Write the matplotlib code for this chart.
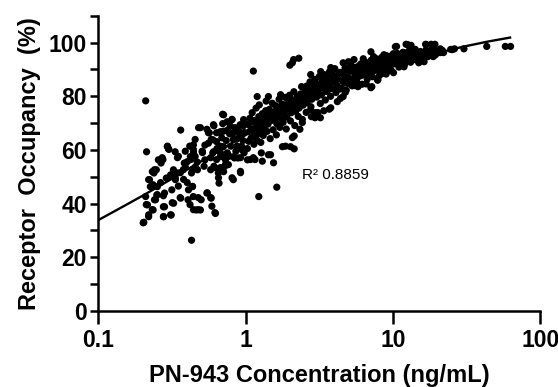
import matplotlib
matplotlib.use('Agg')
from matplotlib import pyplot as plt
from matplotlib.ticker import FixedLocator, NullLocator, FuncFormatter

# (concentration ng/mL, occupancy %)
low_range = [
    (0.21, 78.3), (0.213, 59.3), (0.204, 33.0), (0.22, 35.1), (0.21, 42.6), (0.216, 39.5),
    (0.223, 48.9), (0.239, 51.4), (0.236, 47.0), (0.236, 37.6), (0.241, 41.4), (0.25, 43.2),
    (0.241, 52.6), (0.267, 55.1), (0.275, 56.4), (0.282, 43.9), (0.282, 38.8), (0.278, 35.1),
    (0.295, 61.4), (0.302, 60.2), (0.313, 35.7), (0.325, 40.1), (0.313, 50.1), (0.316, 45.1),
    (0.334, 48.9), (0.344, 51.4), (0.35, 57.6), (0.363, 67.4), (0.363, 42.0), (0.378, 52.6),
    (0.384, 55.1), (0.39, 59.5), (0.407, 41.4), (0.43, 26.3), (0.418, 61.4), (0.425, 56.4),
    (0.43, 51.4), (0.437, 46.4), (0.442, 42.6), (0.442, 60.2), (0.455, 57.6), (0.455, 63.9),
    (0.462, 37.6), (0.472, 52.6), (0.48, 68.3), (0.494, 37.6), (0.5, 41.4), (0.508, 59.5),
    (0.523, 53.9), (0.547, 43.9), (0.547, 67.7), (0.568, 66.4), (0.585, 63.9), (0.585, 42.0),
    (0.591, 39.0), (0.6, 58.9), (0.61, 69.0), (0.625, 36.3), (0.61, 53.9), (0.636, 66.4),
    (0.636, 56.4), (0.654, 51.4), (0.661, 47.6), (0.672, 61.4), (0.691, 57.6), (0.699, 73.3),
    (0.711, 67.0), (0.723, 53.9), (0.752, 58.9), (0.773, 57.6), (0.795, 61.4), (0.809, 71.4),
    (0.827, 48.9), (0.827, 63.9), (0.841, 57.0), (0.865, 67.7), (0.874, 61.4), (0.889, 57.0),
    (0.914, 65.2), (0.924, 52.0), (0.94, 61.4), (0.967, 69.0), (0.978, 58.9),
    (0.494, 68.3), (0.56, 66.4), (0.606, 69.4), (0.6, 63.8), (0.635, 63.1), (0.675, 66.4),
    (0.75, 70.5), (0.443, 59.3), (0.51, 59.3), (0.58, 52.6), (0.62, 53.4), (0.655, 49.6),
    (0.55, 44.0), (0.58, 42.2), (0.62, 36.6), (0.478, 42.2), (0.478, 37.7), (0.443, 37.7),
    (0.42, 39.6), (0.36, 42.2), (0.318, 40.3), (0.277, 38.8), (0.277, 35.1), (0.31, 35.8),
    (0.22, 35.8), (0.202, 32.8), (0.233, 37.7), (0.212, 39.6), (0.245, 41.4), (0.252, 43.3),
    (0.277, 42.9), (0.226, 46.3), (0.252, 46.3), (0.22, 48.9), (0.233, 51.9), (0.248, 52.6),
    (0.256, 56.3), (0.272, 57.1), (0.295, 61.2), (0.3, 60.4), (0.333, 59.3), (0.345, 57.1),
    (0.31, 50.7), (0.333, 49.6), (0.324, 52.6), (0.361, 51.5), (0.39, 53.7), (0.402, 47.8),
    (0.436, 46.3), (0.41, 45.1), (0.436, 52.6), (0.457, 53.7), (0.422, 57.5), (0.402, 55.6),
    (0.443, 61.9), (0.51, 59.0), (0.53, 56.3), (0.58, 57.1), (0.606, 59.3), (0.675, 59.0),
    (0.707, 61.2), (0.73, 56.3), (0.765, 54.5),
    (0.81, 71.3), (0.71, 73.1), (0.675, 66.8), (0.76, 67.5), (0.85, 68.3), (0.92, 69.4),
    (0.97, 71.3), (0.83, 66.4), (0.925, 65.7), (0.675, 57.5), (0.76, 58.2), (0.83, 57.5),
    (0.925, 57.1), (0.81, 49.6), (0.925, 51.5), (0.675, 53.4), (0.73, 54.5), (0.95, 60.0),
    (0.71, 51.9),
    (0.265, 47.8), (0.29, 49.5), (0.35, 46.5), (0.38, 49.0), (0.47, 55.5), (0.53, 61.8),
    (0.56, 62.5), (0.64, 60.5), (0.69, 64.5), (0.74, 63.5), (0.78, 66.0), (0.87, 64.0),
    (0.9, 67.0), (0.96, 63.5), (0.98, 66.5), (0.86, 59.5), (0.79, 68.9), (0.7, 69.8),
]

mid_range = [
    (1.03, 60.5), (1.05, 63.2), (1.06, 66.8), (1.04, 69.5), (1.07, 71.8), (1.09, 64.4),
    (1.1, 67.9), (1.12, 70.6), (1.11, 73.9), (1.14, 62.1), (1.16, 65.3), (1.17, 68.2),
    (1.15, 71.0), (1.18, 75.6), (1.2, 63.6), (1.22, 66.1), (1.21, 69.3), (1.23, 72.4),
    (1.24, 76.8), (1.27, 62.8), (1.28, 67.2), (1.29, 70.1), (1.3, 73.5), (1.32, 65.4),
    (1.34, 68.8), (1.35, 71.7), (1.37, 74.6), (1.38, 78.2), (1.4, 66.9), (1.42, 69.6),
    (1.43, 72.8), (1.45, 75.1), (1.47, 64.2), (1.49, 70.9), (1.5, 73.6), (1.52, 77.4),
    (1.54, 67.5), (1.56, 71.3), (1.58, 74.2), (1.6, 76.5), (1.62, 65.6), (1.63, 69.8),
    (1.65, 72.6), (1.67, 75.3), (1.69, 78.9), (1.71, 68.4), (1.73, 71.9), (1.75, 74.7),
    (1.77, 77.0), (1.8, 70.3), (1.82, 73.1), (1.84, 75.8), (1.86, 79.6), (1.89, 67.8),
    (1.91, 72.2), (1.93, 74.9), (1.96, 77.5), (1.99, 80.4), (2.02, 70.8), (2.05, 73.9),
    (2.08, 76.3), (2.1, 78.6), (2.13, 81.7), (2.16, 69.1), (2.19, 74.4), (2.22, 77.2),
    (2.25, 79.3), (2.28, 72.5), (2.31, 75.6), (2.34, 78.0), (2.37, 80.9), (2.4, 83.6),
    (2.43, 71.4), (2.46, 76.7), (2.5, 79.1), (2.54, 81.5), (2.58, 74.0), (2.62, 77.6),
    (2.66, 80.2), (2.7, 82.8), (2.74, 85.4), (2.78, 76.1), (2.82, 78.9), (2.86, 81.2),
    (2.9, 83.7), (2.95, 86.3), (2.99, 73.9), (3.04, 79.7),
    (1.26, 70.5), (1.39, 72.3), (1.53, 73.2), (1.68, 74.4), (1.85, 76.8), (2.03, 78.2),
    (2.24, 79.9), (2.47, 81.0), (2.72, 82.4),
    (1.08, 56.4), (1.16, 56.4), (1.28, 58.9), (1.3, 55.8), (1.23, 42.6), (1.63, 46.1),
    (1.43, 58.2), (1.48, 58.2), (1.55, 55.2), (1.13, 57.1), (1.03, 56.3),
    (1.2, 79.9), (1.43, 79.9), (1.73, 80.6), (1.13, 89.4),
    (2.0, 91.6), (2.08, 92.5), (2.12, 93.7), (2.3, 94.2),
    (2.43, 70.2), (2.34, 67.7), (2.14, 65.2), (2.14, 60.4), (1.87, 61.4), (2.08, 64.6),
    (2.02, 61.2), (1.78, 61.2), (2.8, 72.4), (2.96, 72.0), (2.77, 75.0), (2.77, 88.1),
    (1.12, 66.0), (1.19, 70.8), (1.33, 70.0), (1.46, 71.8), (1.6, 72.0), (1.75, 76.0),
    (1.95, 75.5), (2.1, 75.2), (2.3, 77.0), (2.55, 78.0), (2.6, 83.8), (2.85, 84.8),
]

high_range = [
    (3.08, 82.1), (3.12, 84.6), (3.17, 87.4), (3.22, 77.3), (3.27, 80.5), (3.32, 83.0),
    (3.37, 85.7), (3.42, 88.1), (3.48, 78.6), (3.54, 81.8), (3.6, 84.2), (3.66, 86.5),
    (3.72, 89.2), (3.78, 80.0), (3.84, 82.9), (3.9, 85.3), (3.97, 87.8), (4.04, 90.3),
    (4.11, 81.4), (4.18, 84.0), (4.25, 86.4), (4.33, 88.7), (4.41, 79.2), (4.49, 83.1),
    (4.57, 85.6), (4.65, 87.9), (4.74, 90.6), (4.83, 82.3), (4.92, 84.8), (5.01, 87.0),
    (5.1, 89.4), (5.2, 91.7), (5.3, 83.9), (5.4, 86.3), (5.5, 88.5), (5.61, 90.8),
    (5.72, 85.2), (5.83, 87.6), (5.95, 89.7), (6.07, 92.1), (6.19, 84.5), (6.31, 88.3),
    (6.44, 90.4), (6.57, 92.6), (6.7, 86.4), (6.84, 89.0), (6.98, 91.2), (7.12, 93.4),
    (7.27, 87.3), (7.42, 89.8), (7.57, 91.9), (7.73, 94.0), (7.89, 86.0), (8.05, 90.2),
    (8.22, 92.4), (8.39, 94.5), (8.57, 88.6), (8.75, 91.0), (8.93, 93.0), (9.12, 95.1),
    (9.31, 89.5), (9.51, 91.6), (9.71, 93.5), (9.92, 95.4), (10.1, 88.8), (10.3, 92.2),
    (10.5, 94.1), (10.7, 96.0), (11.0, 90.9), (11.2, 93.0), (11.5, 94.7), (11.7, 96.4),
    (12.0, 91.8), (12.3, 93.6), (12.6, 95.3), (12.9, 97.0), (13.2, 92.7), (13.5, 94.4),
    (13.9, 96.0), (14.2, 97.5), (14.6, 93.5), (15.0, 95.2), (15.4, 96.7), (15.8, 94.1),
    (16.3, 95.8), (16.8, 97.3), (17.3, 94.8), (17.9, 96.5), (18.5, 97.8), (19.1, 95.4),
    (19.8, 97.0),
    (3.0, 84.0), (3.3, 85.2), (3.63, 86.9), (4.0, 87.6), (4.4, 88.9), (4.85, 89.9),
    (5.35, 90.6), (5.9, 91.4), (6.5, 92.0), (7.2, 92.7), (8.0, 93.3), (8.8, 94.2), (9.7, 94.8),
    (3.24, 89.2), (3.79, 90.7), (4.6, 92.5), (5.45, 93.7), (6.3, 94.0), (7.4, 94.8),
    (8.7, 95.5), (10.1, 95.9), (11.9, 96.3), (13.9, 96.6), (5.0, 92.9),
    (3.1, 73.9), (3.79, 75.7), (4.2, 78.0), (4.6, 79.9), (5.8, 83.6), (7.1, 83.2),
    (7.9, 86.2), (9.7, 89.9), (11.9, 91.0), (15.0, 92.5),
    (3.22, 72.0), (3.4, 74.6), (3.7, 75.2), (7.2, 83.6), (6.6, 84.6), (5.5, 84.0),
    (4.76, 81.5), (4.38, 82.7), (9.0, 88.3), (8.1, 87.7), (7.1, 96.6),
    (3.5, 83.5), (4.1, 86.0), (4.8, 87.2), (5.6, 88.0), (6.2, 90.0), (7.0, 90.0),
    (7.8, 91.3), (8.6, 92.8), (9.4, 93.2), (10.8, 93.8), (12.2, 95.0), (13.0, 94.9),
]

top_range = [
    (10.6, 98.6), (12.3, 99.4), (13.3, 99.0), (16.7, 99.4), (18.2, 99.4), (19.3, 99.4),
    (21.0, 97.7), (21.7, 97.1), (24.7, 97.5), (26.2, 97.7), (30.4, 97.7), (43.4, 98.6),
    (58.0, 98.6), (63.0, 98.6), (16.8, 99.3), (19.5, 95.5), (21.0, 96.3), (22.1, 96.3),
    (25.3, 97.4), (15.0, 96.3), (14.0, 93.7), (16.3, 92.9), (18.8, 94.8), (12.6, 99.3),
    (10.4, 98.5),
]

# fitted curve
fit_conc = [0.1, 0.15, 0.2, 0.3, 0.4, 0.6, 0.8, 1, 1.5, 2, 3, 5, 7, 10, 15, 20, 30, 45, 62.5]
fit_occ = [33.8, 39.1, 42.9, 48.5, 52.6, 58.3, 62.4, 65.5, 70.9, 74.5, 79.4, 84.9, 88.1,
           91.1, 94.2, 96.1, 98.5, 100.5, 101.9]

x_ticks = [0.1, 1, 10, 100]
y_ticks = [0, 20, 40, 60, 80, 100]
y_minor = [10, 30, 50, 70, 90, 110]

allPoints = low_range + mid_range + high_range + top_range
conc = [p[0] for p in allPoints]
occ = [p[1] for p in allPoints]

plt.rcParams['font.family'] = ['Liberation Sans', 'DejaVu Sans']

fig = plt.figure(figsize=(5.58, 3.87), dpi=100)
ax = fig.add_axes([0.176, 0.197, 0.792, 0.762])

ax.scatter(conc, occ, s=27, color='black', edgecolors='none', zorder=3)
ax.plot(fit_conc, fit_occ, color='black', linewidth=1.7, zorder=2)

ax.set_xscale('log')
ax.set_xlim(0.1, 100)
ax.set_ylim(0, 110)
ax.xaxis.set_major_locator(FixedLocator(x_ticks))
ax.xaxis.set_minor_locator(NullLocator())
ax.xaxis.set_major_formatter(FuncFormatter(lambda v, pos: '%g' % v))
ax.yaxis.set_major_locator(FixedLocator(y_ticks))
ax.yaxis.set_minor_locator(FixedLocator(y_minor))

for side in ['top', 'right']:
    ax.spines[side].set_visible(False)
for side in ['left', 'bottom']:
    ax.spines[side].set_linewidth(1.8)

ax.tick_params(axis='x', which='major', length=9, width=1.8, pad=4, labelsize=16.5)
ax.tick_params(axis='y', which='major', length=6, width=1.8, pad=2, labelsize=16.5)
ax.tick_params(axis='y', which='minor', length=6, width=1.8)
for lbl in ax.get_xticklabels() + ax.get_yticklabels():
    lbl.set_fontweight('bold')

ax.set_xlabel('PN-943 Concentration (ng/mL)', fontsize=17, fontweight='bold', labelpad=9)
ax.set_ylabel('Receptor  Occupancy  (%)', fontsize=17, fontweight='bold', labelpad=6)

ax.text(2.4, 50.5, 'R² 0.8859', fontsize=11, va='center', ha='left')

fig.savefig('out.png', dpi=100)
